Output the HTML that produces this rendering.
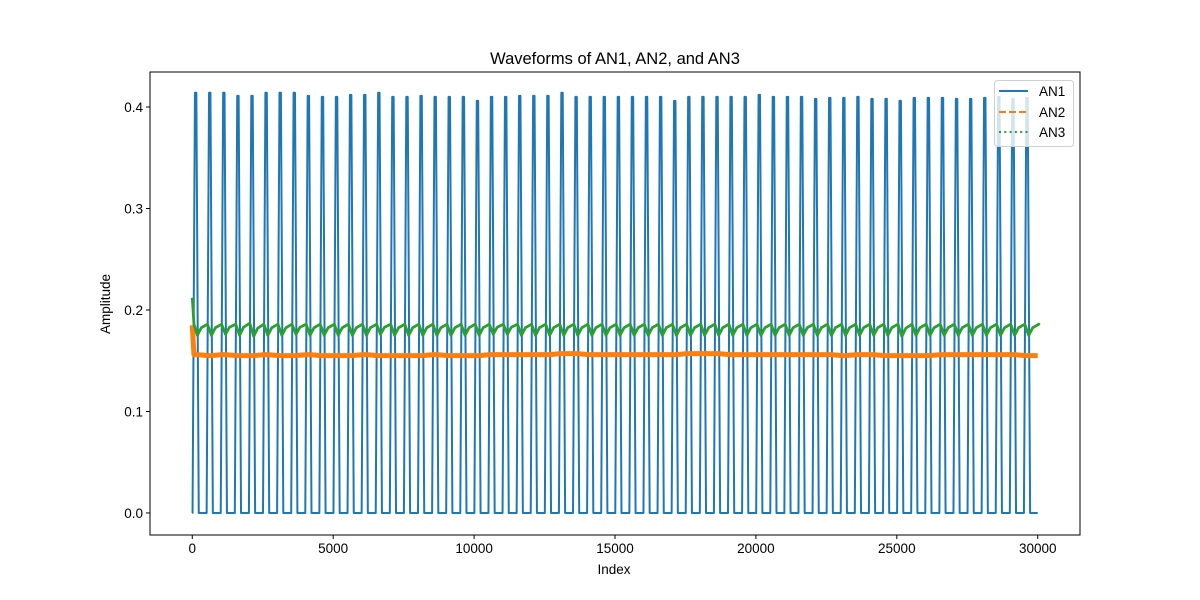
<!DOCTYPE html>
<html><head><meta charset="utf-8"><style>
html,body{margin:0;padding:0;background:#fff;}
svg{display:block;font-family:"Liberation Sans","DejaVu Sans",sans-serif;}
</style></head><body>
<svg id="chart" width="1200" height="600" viewBox="0 0 1200 600">
<rect width="1200" height="600" fill="#fff"/>
<text x="615" y="64" text-anchor="middle" font-size="16.5" fill="#000">Waveforms of AN1, AN2, and AN3</text>
<g id="plot"></g>
<g id="axes"></g>
<text x="614" y="574" text-anchor="middle" font-size="13.5">Index</text>
<text transform="translate(110,304) rotate(-90)" text-anchor="middle" font-size="13.5">Amplitude</text>
<g>
<rect x="994.5" y="80.5" width="79" height="66" rx="3" fill="#fff" fill-opacity="0.8" stroke="#d0d0d0"/>
<g><line x1="999" y1="91" x2="1028" y2="91" stroke="#1f77b4" stroke-width="2"/><text x="1039" y="96" font-size="13.5">AN1</text></g>
<g><line x1="999" y1="112" x2="1028" y2="112" stroke="#ff7f0e" stroke-width="2" stroke-dasharray="7,3"/><text x="1039" y="117" font-size="13.5">AN2</text></g>
<g><line x1="999" y1="132" x2="1028" y2="132" stroke="#2ca02c" stroke-width="2" stroke-dasharray="2,3.3"/><text x="1039" y="137" font-size="13.5">AN3</text></g>
</g>
</svg>
<script>
const xTicks=[0,5000,10000,15000,20000,25000,30000];
const yTicks=[0.0,0.1,0.2,0.3,0.4];
const peakStart=120, peakPeriod=500;
const an1Peaks=[0.414,0.414,0.414,0.411,0.411,0.414,0.414,0.414,0.411,0.410,0.410,0.412,0.412,0.414,0.410,0.410,0.411,0.410,0.410,0.410,0.406,0.410,0.410,0.411,0.411,0.411,0.414,0.410,0.410,0.410,0.410,0.410,0.410,0.410,0.406,0.410,0.410,0.410,0.410,0.410,0.412,0.410,0.410,0.410,0.408,0.409,0.409,0.410,0.408,0.408,0.406,0.409,0.409,0.409,0.408,0.408,0.409,0.410,0.408,0.409];
const an2Levels=[0.156,0.155,0.156,0.155,0.155,0.156,0.155,0.155,0.156,0.155,0.155,0.155,0.156,0.155,0.155,0.155,0.155,0.156,0.155,0.155,0.155,0.156,0.156,0.156,0.156,0.156,0.157,0.157,0.156,0.156,0.156,0.156,0.156,0.156,0.156,0.157,0.157,0.157,0.156,0.156,0.156,0.156,0.156,0.156,0.156,0.156,0.155,0.156,0.156,0.155,0.155,0.155,0.155,0.156,0.156,0.156,0.156,0.156,0.156,0.155];
const an3Low=[0.175,0.175,0.176,0.175,0.174,0.175,0.175,0.176,0.175,0.175,0.175,0.175,0.175,0.176,0.175,0.175,0.175,0.175,0.175,0.175,0.175,0.176,0.176,0.175,0.175,0.175,0.175,0.175,0.175,0.175,0.175,0.175,0.175,0.175,0.175,0.175,0.175,0.175,0.175,0.175,0.175,0.175,0.175,0.175,0.175,0.175,0.175,0.175,0.175,0.175,0.174,0.175,0.175,0.175,0.175,0.175,0.175,0.175,0.175,0.175];
const an3High=[0.186,0.186,0.186,0.187,0.186,0.186,0.186,0.186,0.186,0.186,0.186,0.186,0.186,0.186,0.186,0.186,0.186,0.186,0.186,0.186,0.186,0.186,0.186,0.186,0.186,0.186,0.186,0.186,0.186,0.186,0.186,0.186,0.186,0.186,0.186,0.186,0.186,0.186,0.186,0.186,0.186,0.186,0.186,0.186,0.186,0.186,0.186,0.186,0.186,0.186,0.186,0.186,0.186,0.186,0.186,0.186,0.186,0.186,0.186,0.186];
const an2Start=0.185, an3Start=0.212, xEnd=30000;

const L=150,R=1080,T=72,B=535;
const xMin=-1500,xMax=31500,yMin=-0.0217,yMax=0.4345;
const X=v=>L+(v-xMin)/(xMax-xMin)*(R-L);
const Y=v=>B-(v-yMin)/(yMax-yMin)*(B-T);
const NS='http://www.w3.org/2000/svg';
const plot=document.getElementById('plot'), axes=document.getElementById('axes');
function mk(tag,attrs,parent){const e=document.createElementNS(NS,tag);for(const k in attrs)e.setAttribute(k,attrs[k]);parent.appendChild(e);return e;}

let p1=[[X(0),Y(0)]];
an1Peaks.forEach((h,i)=>{const c=peakStart+i*peakPeriod;
 p1.push([X(c-110),Y(0)],[X(c-25),Y(h)],[X(c+25),Y(h)],[X(c+110),Y(0)]);});
p1.push([X(xEnd),Y(0)]);
const l1=mk('polyline',{points:p1.map(p=>p.join(',')).join(' '),fill:'none',stroke:'#1f77b4','stroke-width':2,'stroke-linejoin':'round'},plot);



let p2=[[X(0),Y(an2Start)]];
an2Levels.forEach((v,i)=>{const c=peakStart+i*peakPeriod;p2.push([X(c-60),Y(v)],[X(c+60),Y(v)]);});
p2.push([X(xEnd),Y(an2Levels[an2Levels.length-1])]);
const l2=mk('polyline',{points:p2.map(p=>p.join(',')).join(' '),fill:'none',stroke:'#ff7f0e','stroke-width':5,'stroke-linejoin':'round'},plot);



let p3=[[X(0),Y(an3Start)],[X(60),Y(an3High[0])]];
an3Low.forEach((v,i)=>{const c=peakStart+i*peakPeriod;p3.push([X(c+60),Y(v)],[X(c+200),Y((v+an3High[i])/2+0.002)],[X(c+peakPeriod-80),Y(an3High[i])]);});
p3.push([X(xEnd),Y(an3High[an3High.length-1])]);
const l3=mk('polyline',{points:p3.map(p=>p.join(',')).join(' '),fill:'none',stroke:'#2ca02c','stroke-width':2.8,'stroke-linejoin':'round'},plot);



const fr=mk('rect',{x:L,y:T,width:R-L,height:B-T,fill:'none',stroke:'#000','stroke-width':1},axes);


xTicks.forEach(t=>{const x=X(t);
 mk('line',{x1:x,y1:B,x2:x,y2:B+4,stroke:'#000'},axes);
 const tx=mk('text',{x:x,y:B+18,'text-anchor':'middle','font-size':13.5},axes);tx.textContent=String(t);
 
 });
yTicks.forEach(t=>{const y=Y(t);
 mk('line',{x1:L-4,y1:y,x2:L,y2:y,stroke:'#000'},axes);
 const tx=mk('text',{x:L-7,y:y+5,'text-anchor':'end','font-size':13.5},axes);tx.textContent=t.toFixed(1);
 
 });
</script>
</body></html>
